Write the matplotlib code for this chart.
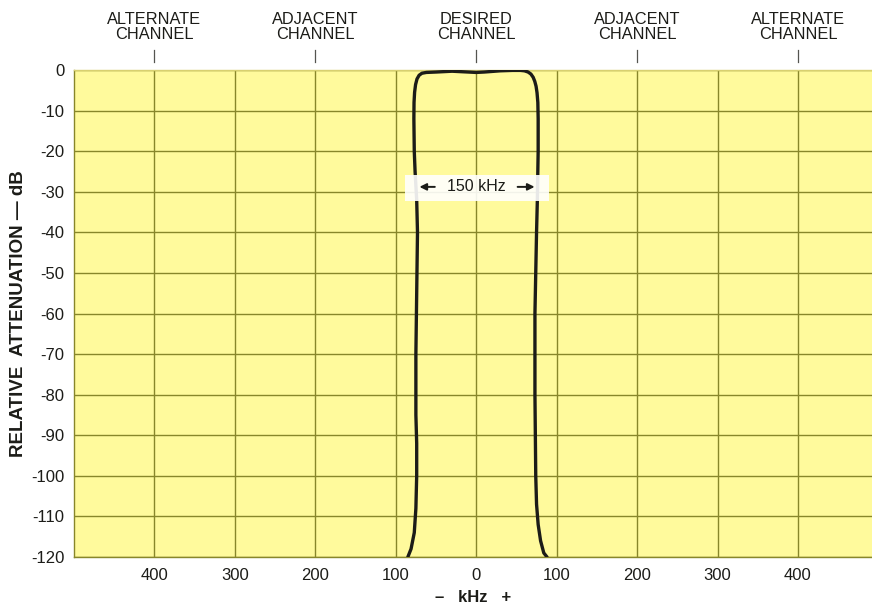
import matplotlib
matplotlib.use("Agg")
import matplotlib.pyplot as plt
from matplotlib.patches import Rectangle

plt.rcParams['font.family'] = ['Liberation Sans', 'DejaVu Sans']

# ---- data ----
curve_khz = [-85, -81, -77, -75, -74, -74, -75, -75, -74, -73, -74, -76, -77, -77.5,
             -77.3, -76.6, -75.4, -73.6, -71, -67.5, -62, -50, -30, -10, 0, 10, 30, 45, 55,
             60, 64.5, 68, 70.8, 72.8, 74.4, 75.6, 76.6, 77, 77, 76, 75, 73, 73, 74, 75,
             77, 80, 84, 88]
curve_db = [-120, -118, -114, -108, -100, -92, -85, -70, -55, -40, -32, -25, -20, -12,
            -8, -5.5, -3.6, -2.2, -1.3, -0.8, -0.6, -0.5, -0.3, -0.5, -0.6, -0.5, -0.2, -0.1, -0.1,
            -0.2, -0.5, -1.0, -1.8, -2.8, -4.0, -5.6, -8, -12, -20, -32, -40, -60, -80, -100,
            -107, -112, -116, -119, -120]

x_ticks = [-400, -300, -200, -100, 0, 100, 200, 300, 400]
x_tick_labels = ["400", "300", "200", "100", "0", "100", "200", "300", "400"]
y_ticks = [0, -10, -20, -30, -40, -50, -60, -70, -80, -90, -100, -110, -120]
y_tick_labels = ["0", "-10", "-20", "-30", "-40", "-50", "-60", "-70", "-80", "-90", "-100", "-110", "-120"]

channel_pos = [-400, -200, 0, 200, 400]
channel_labels = ["ALTERNATE\nCHANNEL", "ADJACENT\nCHANNEL", "DESIRED\nCHANNEL",
                  "ADJACENT\nCHANNEL", "ALTERNATE\nCHANNEL"]

bandwidth_label = "150 kHz"
bw_left, bw_right, bw_level = -74, 76, -28.8

# ---- style ----
yellow = '#FFFA9C'
grid_c = '#88862A'
ink = '#1c1c18'

fig = plt.figure(figsize=(8.72, 6.10), dpi=100)
fig.patch.set_facecolor('white')
ax = fig.add_axes([74/872, 1-557/610, 1-74/872, (557-70)/610])
ax.set_facecolor(yellow)
ax.set_xlim(-500, 492)
ax.set_ylim(-120, 0)

ax.set_xticks(x_ticks)
ax.set_xticklabels(x_tick_labels)
ax.set_yticks(y_ticks)
ax.set_yticklabels(y_tick_labels)
ax.tick_params(axis='both', length=0, labelsize=12, colors=ink)
ax.tick_params(axis='x', pad=8)
ax.tick_params(axis='y', pad=7)
ax.grid(True, color=grid_c, linewidth=1.0)
ax.set_axisbelow(True)
for s in ['left', 'bottom', 'top']:
    ax.spines[s].set_color(grid_c)
    ax.spines[s].set_linewidth(1.0)
ax.spines['right'].set_visible(False)
ax.spines['top'].set_color('#d8d070')

ax.plot(curve_khz, curve_db, color=ink, linewidth=2.4, solid_capstyle='round',
        solid_joinstyle='round', zorder=3)

# bandwidth annotation
ax.add_patch(Rectangle((-89, -32.4), 179, 6.6, facecolor='white', edgecolor='none',
                       alpha=0.9, zorder=4))
ax.text(0, bw_level, bandwidth_label, ha='center', va='center', fontsize=11.5,
        color=ink, zorder=5)
ax.annotate('', xy=(bw_left, bw_level), xytext=(-48, bw_level),
            arrowprops=dict(arrowstyle='-|>', color=ink, lw=1.4, mutation_scale=10),
            zorder=5)
ax.annotate('', xy=(bw_right, bw_level), xytext=(48, bw_level),
            arrowprops=dict(arrowstyle='-|>', color=ink, lw=1.4, mutation_scale=10),
            zorder=5)

# channel labels on top
for xp, lab in zip(channel_pos, channel_labels):
    ax.text(xp, 10.6, lab, ha='center', va='center', fontsize=11.8, color=ink,
            linespacing=1.05, clip_on=False)
    ax.plot([xp, xp], [2.0, 4.9], color='#555550', linewidth=0.9, clip_on=False)

ax.set_xlabel('–   kHz   +', fontsize=12, fontweight='bold', color=ink, labelpad=5)
ax.set_ylabel('RELATIVE  ATTENUATION — dB', fontsize=13.5, fontweight='bold',
              color=ink, labelpad=3)

fig.savefig('out.png', dpi=100, facecolor='white')
